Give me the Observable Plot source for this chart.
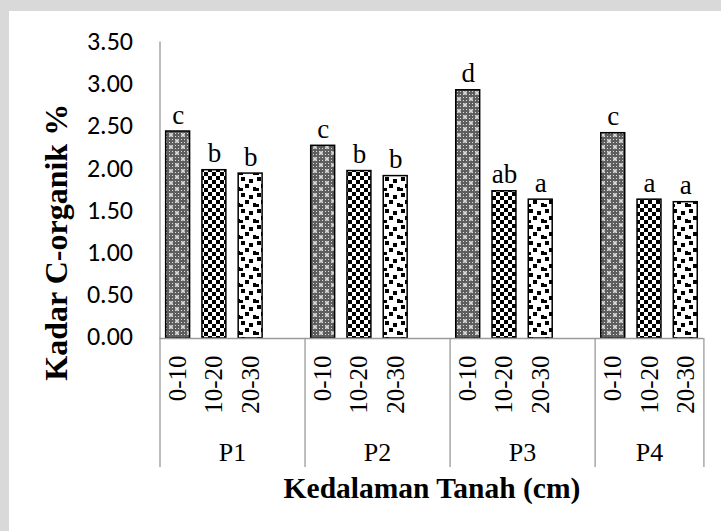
<!DOCTYPE html>
<html><head><meta charset="utf-8">
<script src="https://cdn.jsdelivr.net/npm/d3@7"></script>
<script src="https://cdn.jsdelivr.net/npm/@observablehq/plot@0.6"></script>
<style>
html,body{margin:0;padding:0;}
body{width:721px;height:531px;background:#d9d9d9;position:relative;overflow:hidden;}
#panel{position:absolute;left:9px;top:11px;width:712px;height:520px;background:#fff;}
#chart{position:absolute;left:0;top:0;}
</style></head><body><div id="panel"></div><div id="chart"></div>
<script>
const groups = ["P1", "P2", "P3", "P4"];
const depths = ["0-10", "10-20", "20-30"];
const values0_10 = [2.46, 2.29, 2.95, 2.44];
const values10_20 = [2.00, 1.99, 1.75, 1.65];
const values20_30 = [1.96, 1.93, 1.65, 1.62];
const letters0_10 = ["c", "c", "d", "c"];
const letters10_20 = ["b", "b", "ab", "a"];
const letters20_30 = ["b", "b", "a", "a"];
const yTicks = [0, 0.5, 1, 1.5, 2, 2.5, 3, 3.5];
const yTitle = "Kadar C-organik %";
const xTitle = "Kedalaman Tanah (cm)";

const seriesValues = [values0_10, values10_20, values20_30];
const seriesLetters = [letters0_10, letters10_20, letters20_30];
const slotsPerGroup = 4;
const nSlots = groups.length * slotsPerGroup - 1;
const rows = [];
groups.forEach((g, i) => depths.forEach((d, j) => rows.push({
  group: g, depth: d, di: j, slot: i * slotsPerGroup + j,
  value: seriesValues[j][i], letter: seriesLetters[j][i]
})));
const groupRows = groups.map((g, i) => ({group: g, start: i * slotsPerGroup, end: Math.min((i + 1) * slotsPerGroup, nSlots)}));
const bounds = groupRows.map(r => r.end);

const serif = "'Liberation Serif', 'Times New Roman', serif";
const sans = "Carlito, Lato, 'Liberation Sans', sans-serif";
const axisColor = "#9a9a9a";

const barMarks = depths.map((d, k) => Plot.rect(rows.filter(r => r.di === k), {
  x1: r => r.slot + 0.17, x2: r => r.slot + 0.83, y1: 0, y2: "value",
  fill: `url(#pat${k})`, stroke: "black", strokeWidth: 1.5
}));

const chart = Plot.plot({
  width: 721, height: 531,
  marginLeft: 159.5, marginRight: 17.6, marginTop: 43.5, marginBottom: 193,
  style: {background: "transparent", color: "black", overflow: "visible"},
  x: {type: "linear", domain: [0, nSlots], axis: null},
  y: {domain: [0, 3.5], axis: null},
  marks: [
    ...barMarks,
    Plot.ruleY([0], {stroke: axisColor, strokeWidth: 1.3}),
    Plot.ruleX([0], {insetTop: -2, insetBottom: -129, stroke: axisColor, strokeWidth: 1.3}),
    Plot.ruleX(bounds, {y1: 0, y2: 0, insetBottom: -129, stroke: axisColor, strokeWidth: 1.3}),
    Plot.axisY({ticks: yTicks, tickFormat: d => d.toFixed(2), tickSize: 0, tickPadding: 27,
      fontSize: 26, fontFamily: sans, label: null, dy: -2}),
    Plot.text(rows, {x: r => r.slot + 0.5, y: "value", text: "letter", dy: -8, lineAnchor: "bottom",
      fontSize: 27, fontFamily: serif}),
    Plot.text(rows, {x: r => r.slot + 0.5, text: "depth", frameAnchor: "bottom", dy: 17, rotate: -90,
      textAnchor: "end", lineAnchor: "middle", fontSize: 25, fontFamily: serif}),
    Plot.text(groupRows, {x: r => (r.start + r.end) / 2, text: "group", frameAnchor: "bottom", dy: 122,
      lineAnchor: "bottom", fontSize: 26, fontFamily: serif}),
    Plot.text([xTitle], {text: d => d, frameAnchor: "bottom", dy: 159, lineAnchor: "bottom",
      fontSize: 29.5, fontWeight: "bold", fontFamily: serif}),
    Plot.text([yTitle], {text: d => d, frameAnchor: "left", dx: -93.5, dy: 51, rotate: -90,
      textAnchor: "middle", lineAnchor: "bottom", fontSize: 32, fontWeight: "bold", fontFamily: serif})
  ]
});

const svgNS = "http://www.w3.org/2000/svg";
const defs = document.createElementNS(svgNS, "defs");
defs.innerHTML = `
<pattern id="fine0" width="3" height="3" patternUnits="userSpaceOnUse">
  <rect width="3" height="3" fill="#5e5e5e"/>
  <rect x="1" y="1" width="1" height="1" fill="#dcdcdc"/>
</pattern>
<pattern id="pat0" width="12" height="12" patternUnits="userSpaceOnUse">
  <rect width="12" height="12" fill="url(#fine0)"/>
  <path d="M3 1v4M1 3h4M9 7v4M7 9h4" stroke="#fff" stroke-width="1"/>
</pattern>
<pattern id="pat1" width="8" height="8" patternUnits="userSpaceOnUse">
  <rect width="8" height="8" fill="#fff"/>
  <rect x="0" y="0" width="4" height="4" fill="#000"/>
  <rect x="4" y="4" width="4" height="4" fill="#000"/>
</pattern>
<pattern id="pat2" width="16" height="16" patternUnits="userSpaceOnUse">
  <rect width="16" height="16" fill="#fff"/>
  <rect x="1" y="1" width="4" height="4" fill="#000"/>
  <rect x="9" y="3" width="4" height="4" fill="#000"/>
  <rect x="5" y="8" width="4" height="4" fill="#000"/>
  <rect x="13" y="11" width="3" height="4" fill="#000"/>
  <rect x="0" y="12" width="3" height="3" fill="#000"/>
</pattern>`;
chart.insertBefore(defs, chart.firstChild);
document.getElementById("chart").appendChild(chart);
</script>
</body></html>
